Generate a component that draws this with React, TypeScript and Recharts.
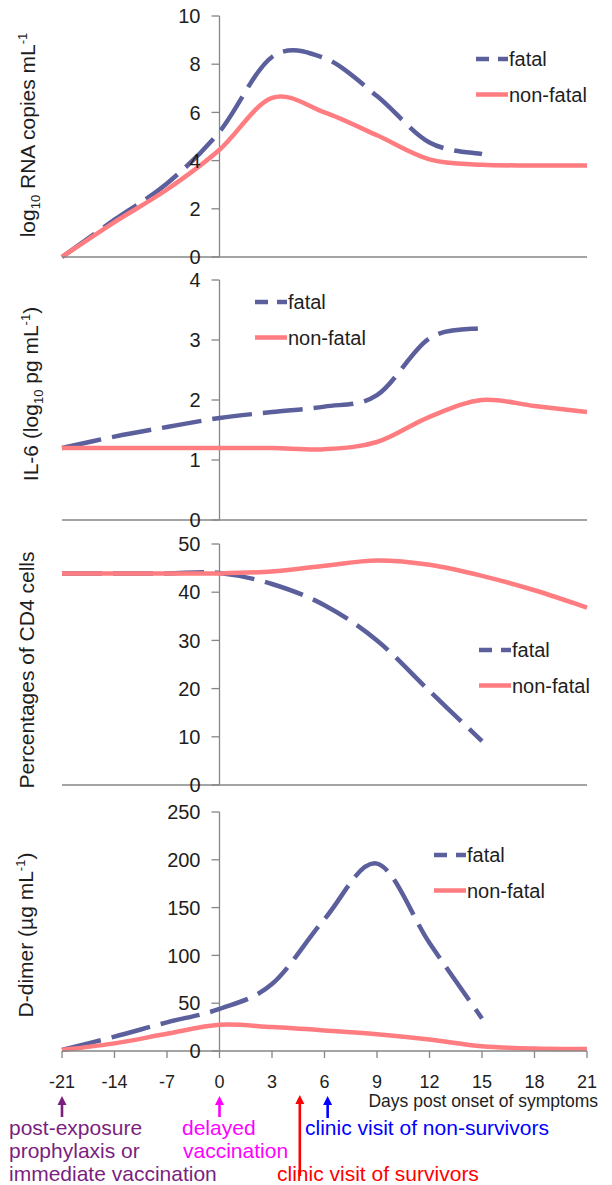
import React from "react";
import { LineChart, Line, XAxis, YAxis, ReferenceLine, Legend } from "recharts";

// categories on the shared x axis (days post onset of symptoms)
const days = ["-21", "-14", "-7", "0", "3", "6", "9", "12", "15", "18", "21"];

const rnaFatal = [0, 1.55, 3.05, 5.2, 8.3, 8.25, 6.68, 4.75, 4.27, null, null];
const rnaNonFatal = [0, 1.45, 2.8, 4.45, 6.6, 6.0, 5.05, 4.05, 3.83, 3.8, 3.8];

const il6Fatal = [1.2, 1.39, 1.55, 1.7, 1.8, 1.89, 2.08, 3.03, 3.2, null, null];
const il6NonFatal = [1.2, 1.2, 1.2, 1.2, 1.2, 1.18, 1.3, 1.72, 2.0, 1.9, 1.8];

const cd4Fatal = [43.9, 43.9, 43.9, 44.0, 41.7, 37.3, 30.0, 19.5, 9.1, null, null];
const cd4NonFatal = [43.9, 43.9, 43.9, 43.9, 44.3, 45.5, 46.6, 45.7, 43.4, 40.4, 36.8];

const ddFatal = [1, 15, 30, 44, 70, 138, 196, 113, 34, null, null];
const ddNonFatal = [1, 8, 18, 27.4, 25, 21.5, 17.5, 12, 5, 2.5, 2];

const rnaTicks = [0, 2, 4, 6, 8, 10];
const il6Ticks = [0, 1, 2, 3, 4];
const cd4Ticks = [0, 10, 20, 30, 40, 50];
const ddTicks = [0, 50, 100, 150, 200, 250];

// arrows under the x axis; pos = position in category units
const events = [
  { pos: 0, color: "#7b1f7f", top: 1096, bottom: 1117 },
  { pos: 3, color: "#ff00ff", top: 1096, bottom: 1117 },
  { pos: 4.53, color: "#ff0000", top: 1095, bottom: 1176 },
  { pos: 5.06, color: "#0000ff", top: 1096, bottom: 1118 },
];

const FATAL = "#5b5f9c";
const NONFATAL = "#ff7c80";
const AXIS = "#868686";
const INK = "#1e1e1e";
const FONT = "'Liberation Sans', Arial, sans-serif";

const W = 612;
const PLOT_LEFT = 62;
const PLOT_RIGHT = 587;
const STEP = (PLOT_RIGHT - PLOT_LEFT) / (days.length - 1);
const AXIS_X = PLOT_LEFT + days.indexOf("0") * STEP;
const M_TOP = 12;

const build = (f: (number | null)[], nf: (number | null)[]) =>
  days.map((d, i) => ({ day: d, fatal: f[i], nonfatal: nf[i] }));

// Excel-like smoothed line (Catmull-Rom through the points)
function excelSmooth(context: any) {
  let pts: number[][] = [];
  return {
    areaStart() {},
    areaEnd() {},
    lineStart() {
      pts = [];
    },
    lineEnd() {
      if (!pts.length) return;
      context.moveTo(pts[0][0], pts[0][1]);
      for (let i = 0; i < pts.length - 1; i++) {
        const p0 = pts[i - 1] || pts[i];
        const p1 = pts[i];
        const p2 = pts[i + 1];
        const p3 = pts[i + 2] || p2;
        context.bezierCurveTo(
          p1[0] + (p2[0] - p0[0]) / 6,
          p1[1] + (p2[1] - p0[1]) / 6,
          p2[0] - (p3[0] - p1[0]) / 6,
          p2[1] - (p3[1] - p1[1]) / 6,
          p2[0],
          p2[1]
        );
      }
    },
    point(x: number, y: number) {
      pts.push([+x, +y]);
    },
  };
}

const YTick = (props: any) => {
  const { y, payload } = props;
  return (
    <g>
      <line x1={AXIS_X - 8} x2={AXIS_X} y1={y} y2={y} stroke={AXIS} strokeWidth={1.3} />
      <text x={AXIS_X - 19} y={y} dy="0.355em" textAnchor="end" fontSize={20} fill={INK} fontFamily={FONT}>
        {payload.value}
      </text>
    </g>
  );
};

const SUB = 13;

const titles: Record<string, React.ReactNode> = {
  rna: (
    <>
      <tspan>log</tspan>
      <tspan fontSize={SUB} dy={5}>10</tspan>
      <tspan dy={-5}> RNA copies mL</tspan>
      <tspan fontSize={SUB} dy={-8}>-1</tspan>
    </>
  ),
  il6: (
    <>
      <tspan>IL-6 (log</tspan>
      <tspan fontSize={SUB} dy={5}>10</tspan>
      <tspan dy={-5}> pg mL</tspan>
      <tspan fontSize={SUB} dy={-8}>-1</tspan>
      <tspan dy={8}>)</tspan>
    </>
  ),
  cd4: <tspan>Percentages of CD4 cells</tspan>,
  dd: (
    <>
      <tspan>D-dimer (µg mL</tspan>
      <tspan fontSize={SUB} dy={-8}>-1</tspan>
      <tspan dy={8}>)</tspan>
    </>
  ),
};

type PanelProps = {
  data: any[];
  ticks: number[];
  plotTop: number;
  plotBottom: number;
  title: string;
  titleX: number;
  titleY: number;
  legendX: number;
  legendY: number;
  bottomAxis?: boolean;
};

const LegendBox = () => (
  <svg width={150} height={60} style={{ display: "block", overflow: "visible" }}>
    <line x1={0} x2={32} y1={12} y2={12} stroke={FATAL} strokeWidth={4.5} strokeDasharray="13 9" />
    <text x={33} y={12} dy="0.36em" fontSize={20} fill={INK} fontFamily={FONT}>fatal</text>
    <line x1={0} x2={32} y1={47.5} y2={47.5} stroke={NONFATAL} strokeWidth={4.5} />
    <text x={33} y={47.5} dy="0.36em" fontSize={20} fill={INK} fontFamily={FONT}>non-fatal</text>
  </svg>
);

function Panel(p: PanelProps) {
  const xH = p.bottomAxis ? 50 : 10;
  const divTop = p.plotTop - M_TOP;
  const h = M_TOP + (p.plotBottom - p.plotTop) + xH;
  const max = p.ticks[p.ticks.length - 1];
  return (
    <div style={{ position: "absolute", left: 0, top: divTop, width: W, height: h }}>
      <LineChart width={W} height={h} data={p.data} margin={{ top: M_TOP, right: W - PLOT_RIGHT, bottom: 0, left: 0 }}>
        <XAxis
          dataKey="day"
          type="category"
          interval={0}
          height={xH}
          tickSize={7}
          tickMargin={17}
          axisLine={{ stroke: AXIS, strokeWidth: 1.3 }}
          tickLine={{ stroke: AXIS, strokeWidth: 1.3 }}
          tick={p.bottomAxis ? { fontSize: 18, fill: INK, fontFamily: FONT } : false}
        />
        <YAxis
          type="number"
          domain={[0, max]}
          ticks={p.ticks}
          interval={0}
          width={PLOT_LEFT}
          axisLine={false}
          tickLine={false}
          tick={<YTick />}
          label={{
            content: () => (
              <text
                transform={`translate(${p.titleX},${p.titleY - divTop}) rotate(-90)`}
                textAnchor="middle"
                fontSize={21}
                fill={INK}
                fontFamily={FONT}
              >
                {titles[p.title]}
              </text>
            ),
          }}
        />
        <ReferenceLine x="0" stroke={AXIS} strokeWidth={1.3} />
        <Legend
          layout="vertical"
          align="center"
          verticalAlign="middle"
          content={() => <LegendBox />}
          wrapperStyle={{ left: p.legendX, top: p.legendY - 12 - divTop, width: 150, height: 60 }}
        />
        <Line
          type={excelSmooth as any}
          dataKey="fatal"
          name="fatal"
          stroke={FATAL}
          strokeWidth={4.5}
          strokeDasharray="40 11"
          dot={false}
          activeDot={false}
          isAnimationActive={false}
        />
        <Line
          type={excelSmooth as any}
          dataKey="nonfatal"
          name="non-fatal"
          stroke={NONFATAL}
          strokeWidth={4.5}
          dot={false}
          activeDot={false}
          isAnimationActive={false}
        />
      </LineChart>
    </div>
  );
}

const noteStyle = (color: string): React.CSSProperties => ({
  fontSize: 21,
  fill: color,
  fontFamily: FONT,
});

export default function App() {
  return (
    <div style={{ position: "absolute", left: 0, top: 0, width: W, height: 1185, background: "#fff", overflow: "hidden" }}>
      <Panel data={build(rnaFatal, rnaNonFatal)} ticks={rnaTicks} plotTop={16} plotBottom={257}
        title="rna" titleX={35} titleY={135} legendX={476} legendY={59} />
      <Panel data={build(il6Fatal, il6NonFatal)} ticks={il6Ticks} plotTop={280} plotBottom={520}
        title="il6" titleX={38} titleY={394} legendX={255} legendY={302} />
      <Panel data={build(cd4Fatal, cd4NonFatal)} ticks={cd4Ticks} plotTop={544} plotBottom={785}
        title="cd4" titleX={34} titleY={670} legendX={479} legendY={650} />
      <Panel data={build(ddFatal, ddNonFatal)} ticks={ddTicks} plotTop={812} plotBottom={1051}
        title="dd" titleX={33} titleY={935} legendX={434} legendY={855} bottomAxis />
      <svg width={W} height={1185} style={{ position: "absolute", left: 0, top: 0, pointerEvents: "none" }}>
        <text x={598} y={1107} textAnchor="end" fontSize={17.5} fill={INK} fontFamily={FONT}>
          Days post onset of symptoms
        </text>
        {events.map((e, i) => {
          const x = PLOT_LEFT + e.pos * STEP;
          return (
            <g key={i}>
              <line x1={x} x2={x} y1={e.top + 8} y2={e.bottom} stroke={e.color} strokeWidth={2.6} />
              <polygon points={`${x - 4.5},${e.top + 9} ${x + 4.5},${e.top + 9} ${x},${e.top}`} fill={e.color} />
            </g>
          );
        })}
        <g style={noteStyle("#7b1f7f")}>
          <text x={9} y={1135}>post-exposure</text>
          <text x={9} y={1158}>prophylaxis or</text>
          <text x={9} y={1181}>immediate vaccination</text>
        </g>
        <g style={noteStyle("#ff00ff")}>
          <text x={182} y={1135}>delayed</text>
          <text x={183} y={1158}>vaccination</text>
        </g>
        <text x={305} y={1135} style={noteStyle("#0000ff")}>clinic visit of non-survivors</text>
        <text x={277} y={1181} style={noteStyle("#ff0000")}>clinic visit of survivors</text>
      </svg>
    </div>
  );
}
